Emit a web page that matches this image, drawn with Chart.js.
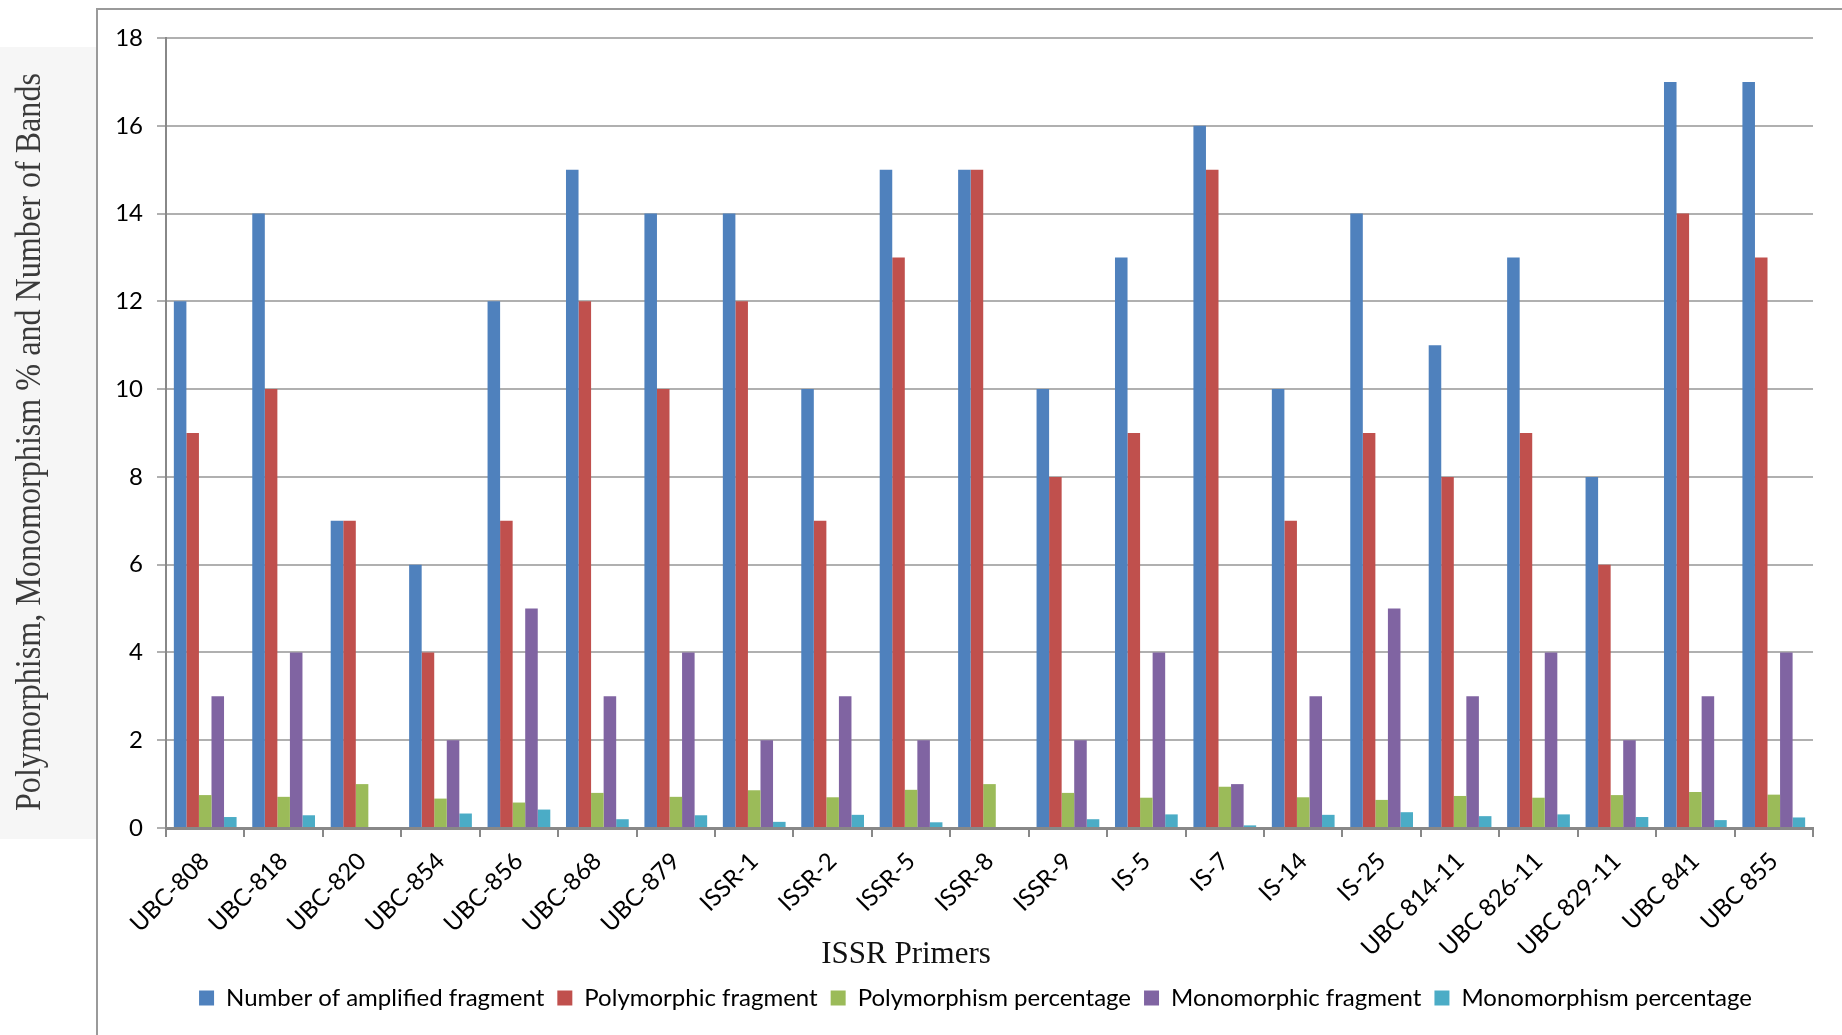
<!DOCTYPE html>
<html>
<head>
<meta charset="utf-8">
<script src="https://cdn.jsdelivr.net/npm/chart.js@4.4.1/dist/chart.umd.min.js"></script>
<style>
  html, body { margin: 0; padding: 0; background: #fff; }
  #wrap { width: 1842px; height: 1035px; position: relative; }
</style>
</head>
<body>
<div id="wrap"><canvas id="bands"></canvas></div>
<script>
// ISSR primers
const primers = ['UBC-808', 'UBC-818', 'UBC-820', 'UBC-854', 'UBC-856', 'UBC-868', 'UBC-879', 'ISSR-1', 'ISSR-2', 'ISSR-5', 'ISSR-8',
  'ISSR-9', 'IS-5', 'IS-7', 'IS-14', 'IS-25', 'UBC 814-11', 'UBC 826-11', 'UBC 829-11', 'UBC 841', 'UBC 855'];

const amplified   = [12, 14, 7, 6, 12, 15, 14, 14, 10, 15, 15, 10, 13, 16, 10, 14, 11, 13, 8, 17, 17];
const polymorphic = [9, 10, 7, 4, 7, 12, 10, 12, 7, 13, 15, 8, 9, 15, 7, 9, 8, 9, 6, 14, 13];
const polyPct     = [0.75, 0.71, 1.00, 0.67, 0.58, 0.80, 0.71, 0.86, 0.70, 0.87, 1.00, 0.80, 0.69, 0.94, 0.70, 0.64, 0.73, 0.69, 0.75, 0.82, 0.76];
const monomorphic = [3, 4, 0, 2, 5, 3, 4, 2, 3, 2, 0, 2, 4, 1, 3, 5, 3, 4, 2, 3, 4];
const monoPct     = [0.25, 0.29, 0, 0.33, 0.42, 0.20, 0.29, 0.14, 0.30, 0.13, 0, 0.20, 0.31, 0.06, 0.30, 0.36, 0.27, 0.31, 0.25, 0.18, 0.24];

const yTicks = [0, 2, 4, 6, 8, 10, 12, 14, 16, 18];

const yTitle = 'Polymorphism, Monomorphism % and Number of Bands';
const xTitle = 'ISSR Primers';

Chart.defaults.font.family = "Lato, 'Open Sans', sans-serif";
Chart.defaults.color = '#000';

// frame, grey title box and the two serif axis titles
const framePlugin = {
  id: 'frame',
  afterLayout(chart) {
    // legend sits a little right of centre in the original
    chart.legend.left += 15;
    chart.legend.right += 15;
  },
  beforeDraw(chart) {
    const c = chart.ctx;
    c.save();
    c.fillStyle = '#fff';
    c.fillRect(0, 0, chart.width, chart.height);
    c.fillStyle = '#f6f6f6';
    c.fillRect(0, 47, 98, 792);
    c.strokeStyle = '#9a9a9a';
    c.lineWidth = 2;
    c.beginPath();
    c.moveTo(97, 1035);
    c.lineTo(97, 9);
    c.lineTo(1842, 9);
    c.stroke();
    c.restore();
  },
  afterDraw(chart) {
    const c = chart.ctx;
    c.save();
    // y title
    c.font = "36px 'Liberation Serif', serif";
    c.fillStyle = '#3a3a3a';
    c.textAlign = 'center';
    c.textBaseline = 'middle';
    const w = c.measureText(yTitle).width;
    c.translate(31, 442);
    c.rotate(-Math.PI / 2);
    c.scale(738 / w, 1);
    c.fillText(yTitle, 0, 0);
    c.restore();

    c.save();
    c.font = "31px 'Liberation Serif', serif";
    c.fillStyle = '#111';
    c.textAlign = 'center';
    c.textBaseline = 'middle';
    c.fillText(xTitle, 906, 955);
    c.restore();
  }
};

new Chart(document.getElementById('bands'), {
  type: 'bar',
  data: {
    labels: primers,
    datasets: [
      { label: 'Number of amplified fragment', data: amplified, backgroundColor: '#4F81BD' },
      { label: 'Polymorphic fragment', data: polymorphic, backgroundColor: '#C0504D' },
      { label: 'Polymorphism percentage', data: polyPct, backgroundColor: '#9BBB59' },
      { label: 'Monomorphic fragment', data: monomorphic, backgroundColor: '#8064A2' },
      { label: 'Monomorphism percentage', data: monoPct, backgroundColor: '#4BACC6' }
    ]
  },
  options: {
    responsive: true,
    maintainAspectRatio: false,
    devicePixelRatio: 1,
    animation: false,
    datasets: { bar: { categoryPercentage: 0.8, barPercentage: 1.0 } },
    layout: { padding: { left: 108, right: 29, top: 38, bottom: 15 } },
    plugins: {
      tooltip: { enabled: false },
      legend: {
        position: 'bottom',
        labels: { boxWidth: 15, boxHeight: 15, padding: 13, font: { size: 24 }, color: '#000' }
      }
    },
    scales: {
      x: {
        grid: { offset: true, drawOnChartArea: false, drawTicks: true, tickLength: 9, color: '#888', lineWidth: 2 },
        border: { color: '#888', width: 3 },
        ticks: { font: { size: 24 }, maxRotation: 45, minRotation: 45, padding: 10, autoSkip: false },
        afterFit(scale) { scale.height = 145; }
      },
      y: {
        min: 0,
        max: 18,
        afterBuildTicks(scale) { scale.ticks = yTicks.map(v => ({ value: v })); },
        grid: { color: '#b0b0b0', lineWidth: 2, tickLength: 9 },
        border: { color: '#888', width: 2 },
        ticks: { font: { size: 24 }, padding: 14 },
        afterFit(scale) { scale.width = 58; }
      }
    }
  },
  plugins: [framePlugin]
});
</script>
</body>
</html>
